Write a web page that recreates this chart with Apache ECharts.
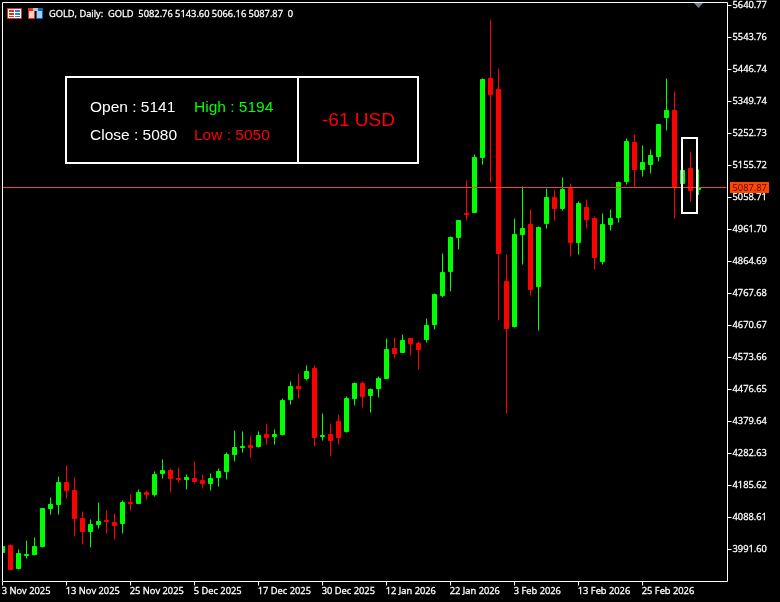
<!DOCTYPE html>
<html>
<head>
<meta charset="utf-8">
<style>html,body{margin:0;padding:0;background:#000;}#c{width:780px;height:602px;}</style>
<script src="https://cdn.jsdelivr.net/npm/echarts@6/dist/echarts.min.js"></script>
</head>
<body>
<div id="c"></div>
<script>
const dates = ["3 Nov 2025","4 Nov 2025","5 Nov 2025","6 Nov 2025","7 Nov 2025","10 Nov 2025","11 Nov 2025","12 Nov 2025",
"13 Nov 2025","14 Nov 2025","17 Nov 2025","18 Nov 2025","19 Nov 2025","20 Nov 2025","21 Nov 2025","24 Nov 2025",
"25 Nov 2025","26 Nov 2025","27 Nov 2025","28 Nov 2025","1 Dec 2025","2 Dec 2025","3 Dec 2025","4 Dec 2025",
"5 Dec 2025","8 Dec 2025","9 Dec 2025","10 Dec 2025","11 Dec 2025","12 Dec 2025","15 Dec 2025","16 Dec 2025",
"17 Dec 2025","18 Dec 2025","19 Dec 2025","22 Dec 2025","23 Dec 2025","24 Dec 2025","26 Dec 2025","29 Dec 2025",
"30 Dec 2025","31 Dec 2025","2 Jan 2026","5 Jan 2026","6 Jan 2026","7 Jan 2026","8 Jan 2026","9 Jan 2026",
"12 Jan 2026","13 Jan 2026","14 Jan 2026","15 Jan 2026","16 Jan 2026","19 Jan 2026","20 Jan 2026","21 Jan 2026",
"22 Jan 2026","23 Jan 2026","26 Jan 2026","27 Jan 2026","28 Jan 2026","29 Jan 2026","30 Jan 2026","2 Feb 2026",
"3 Feb 2026","4 Feb 2026","5 Feb 2026","6 Feb 2026","9 Feb 2026","10 Feb 2026","11 Feb 2026","12 Feb 2026",
"13 Feb 2026","16 Feb 2026","17 Feb 2026","18 Feb 2026","19 Feb 2026","20 Feb 2026","23 Feb 2026","24 Feb 2026",
"25 Feb 2026","26 Feb 2026","27 Feb 2026","2 Mar 2026","3 Mar 2026","4 Mar 2026","5 Mar 2026","6 Mar 2026"];
const futureSlots = ["","",""];

const opens = [3982.49,4003.70,3933.98,3973.39,3976.42,4000.67,4115.88,4128.00,
4194.69,4170.44,4085.55,4046.15,4067.37,4079.49,4073.42,4070.40,
4134.06,4131.03,4164.37,4158.32,4221.98,4231.07,4206.82,4203.79,
4206.82,4200.75,4191.67,4209.86,4228.04,4279.58,4300.80,4306.86,
4303.83,4340.21,4334.15,4340.21,4446.32,4485.72,4509.98,4540.29,
4334.15,4340.21,4379.62,4349.31,4449.35,4494.82,4458.45,4479.67,
4509.98,4600.92,4588.81,4631.24,4616.08,4628.22,4673.69,4761.61,
4834.36,4937.44,5010.19,5013.23,5179.97,5419.46,5386.11,4804.04,
4667.63,4946.53,4976.84,4788.89,4979.88,5058.69,5025.36,5085.98,
4922.28,5028.38,4995.03,4864.68,4976.85,4998.07,5107.21,5225.43,
5143.59,5158.75,5183.00,5301.23,5322.44,5101.15,5146.61,5082.76];
const highs = [4006.73,4006.73,3991.57,4018.86,4027.95,4115.87,4149.21,4212.88,
4246.23,4209.85,4106.77,4082.52,4134.06,4109.80,4100.71,4140.12,
4158.31,4173.47,4170.44,4228.04,4264.42,4237.13,4240.16,4218.94,
4258.35,4218.94,4221.97,4237.13,4285.64,4352.33,4349.30,4334.14,
4349.30,4373.55,4355.36,4449.34,4500.88,4525.13,4549.39,4549.39,
4403.87,4373.55,4400.84,4455.41,4497.85,4500.88,4479.66,4516.04,
4631.24,4634.27,4643.37,4631.24,4622.14,4691.87,4767.66,4888.92,
4940.46,4988.97,5110.23,5189.05,5419.46,5598.32,5449.77,4885.89,
4995.03,5092.04,5022.32,4970.78,5085.98,5079.92,5119.33,5101.14,
5046.57,5052.63,5001.09,5010.19,5022.32,5107.20,5237.56,5249.69,
5216.34,5204.21,5280.00,5419.46,5380.04,5155.71,5197.00,5143.60];
const lows = [3976.42,3927.92,3930.95,3964.30,3973.39,3997.64,4097.69,4097.69,
4146.19,4030.99,4006.74,3997.64,4055.24,4040.09,4021.90,4040.09,
4109.81,4131.03,4143.16,4152.25,4206.82,4164.38,4194.70,4173.48,
4191.67,4176.51,4170.44,4182.57,4203.79,4258.36,4285.65,4270.49,
4300.80,4309.90,4309.90,4337.18,4431.16,4449.35,4503.92,4303.83,
4322.02,4273.52,4309.90,4346.28,4428.13,4422.07,4406.91,4452.38,
4509.98,4570.62,4588.81,4579.71,4537.27,4619.12,4658.53,4755.54,
4773.73,4901.06,4988.98,5013.23,5158.75,5104.18,4685.82,4403.88,
4664.60,4855.59,4761.61,4655.50,4964.72,4988.98,5019.29,4879.84,
4885.90,4964.72,4840.43,4855.59,4958.66,4982.91,5098.11,5092.05,
5122.37,5131.46,5167.84,5261.82,4995.04,5082.96,5047.00,5066.16];
const closes = [4000.67,3930.95,3979.45,3976.41,4000.67,4115.87,4127.99,4194.69,
4170.44,4085.56,4046.15,4067.36,4076.46,4076.46,4064.34,4134.06,
4131.03,4164.37,4158.32,4218.94,4231.07,4206.82,4203.79,4209.85,
4197.73,4191.67,4206.82,4228.04,4279.57,4300.79,4303.83,4300.80,
4337.17,4331.12,4340.21,4443.28,4485.72,4479.67,4531.20,4331.12,
4337.17,4322.02,4331.12,4449.34,4494.82,4455.41,4476.63,4509.98,
4597.89,4585.77,4625.18,4616.09,4597.90,4670.65,4764.63,4831.32,
4937.43,4988.97,5007.17,5179.96,5416.42,5370.96,4888.93,4661.56,
4946.53,4964.72,4779.80,4967.75,5058.69,5025.36,5082.95,4922.28,
5040.51,4992.01,4876.81,4976.84,4995.03,5104.17,5228.46,5143.59,
5164.80,5186.02,5280.00,5322.44,5092.05,5140.55,5079.92,5087.87];

const yTickValues = [5640.77,5543.76,5446.74,5349.74,5252.73,5155.72,5058.71,4961.70,4864.69,4767.68,4670.67,4573.66,4476.65,4379.64,4282.63,4185.62,4088.61,3991.60];
const yMin = 3894.59, yMax = 5649.87;
const lastPrice = 5087.87;
const priceLineLevel = 5089.8;
const titleText = "GOLD, Daily:  GOLD  5082.76 5143.60 5066.16 5087.87  0";
const panel = {open:"Open : 5141", high:"High : 5194", close:"Close : 5080", low:"Low : 5050", pnl:"-61 USD"};

const UP = "#00ff00", DOWN = "#ff0000", WHITE = "#ffffff";
const SMALL_SIZE = 9.3;
const SMALL_FONT = SMALL_SIZE + "px 'Open Sans', sans-serif";
const PANEL_FONT = "15.5px 'Liberation Sans', Arial, sans-serif";
const categories = dates.concat(futureSlots);
const candles = opens.map((o, i) => [o, closes[i], lows[i], highs[i]]);
const showTick = (i) => i % 8 === 0 && i < dates.length;

const Z = 100;
const txt = (x, y, text, fill, font, border) => ({type:"text", z:Z+2, silent:true,
  style:{x, y, text, fill, font, verticalAlign:"middle", align:"left", stroke:border?fill:null, lineWidth:border||0}});
const line = (x1, y1, x2, y2, stroke, lineWidth) => ({type:"line", z:Z+1, silent:true,
  shape:{x1, y1, x2, y2}, style:{stroke, lineWidth}});
const box = (x, y, width, height, fill) => ({type:"rect", z:Z+1, silent:true,
  shape:{x, y, width, height}, style:{fill}});

const chart = echarts.init(document.getElementById("c"), null, {renderer:"canvas"});
chart.setOption({
  animation:false,
  backgroundColor:"#000000",
  textStyle:{fontFamily:"'Open Sans', sans-serif"},
  grid:{left:-1.5, top:2.5, width:728, height:579, containLabel:false, outerBoundsMode:"none"},
  xAxis:{
    type:"category", data:categories, boundaryGap:true,
    axisLine:{show:false},
    splitLine:{show:false},
    axisTick:{show:true, alignWithLabel:true, interval:(i) => showTick(i), length:4, lineStyle:{color:WHITE, width:1}},
    axisLabel:{show:true, interval:(i) => showTick(i), color:WHITE, fontSize:SMALL_SIZE, fontFamily:"'Open Sans', sans-serif", align:"left", margin:5, padding:[0,0,0,-0.7], textBorderColor:WHITE, textBorderWidth:0.3, hideOverlap:false, showMinLabel:true}
  },
  yAxis:{
    type:"value", position:"right", offset:1, min:yMin, max:yMax, scale:true,
    axisLine:{show:false},
    splitLine:{show:false},
    axisTick:{show:true, length:4, lineStyle:{color:WHITE, width:1}, customValues:yTickValues},
    axisLabel:{show:true, color:WHITE, fontSize:SMALL_SIZE, fontFamily:"'Open Sans', sans-serif", margin:5, padding:[2,0,0,0], textBorderColor:WHITE, textBorderWidth:0.3, customValues:yTickValues, formatter:(v) => v.toFixed(2)}
  },
  series:[
    {type:"line", data:[], z:1, silent:true, symbol:"none",
     markLine:{silent:true, symbol:"none", animation:false, label:{show:false},
       lineStyle:{color:"#f04a10", width:1, type:"solid"}, data:[{yAxis:priceLineLevel}]}},
    {type:"candlestick", z:3, data:candles, barWidth:4.4, clip:false,
     itemStyle:{color:UP, color0:DOWN, borderColor:UP, borderColor0:DOWN, borderWidth:1}}
  ]
});

const yLast = chart.convertToPixel({yAxisIndex:0}, lastPrice);
chart.setOption({graphic:{elements:[
  box(0, 0, 2, 602, "#000000"),
  line(2.5, 2.5, 727.5, 2.5, WHITE, 1),
  line(2.5, 2.5, 2.5, 581.5, WHITE, 1),
  line(727.5, 2.5, 727.5, 581.5, WHITE, 1),
  line(2.5, 581.5, 727.5, 581.5, WHITE, 1),
  {type:"rect", z:Z+1, silent:true, shape:{x:7.5,y:8.5,width:14,height:10}, style:{fill:"#ffffff", stroke:"#e03020", lineWidth:1}},
  box(9, 10, 5, 2, "#e03020"), box(9, 13, 5, 2, "#e03020"), box(9, 16, 5, 1, "#e03020"),
  box(15, 10, 5, 2, "#3080d0"), box(15, 13, 5, 2, "#3080d0"), box(15, 16, 5, 1, "#3080d0"),
  box(28, 8, 7, 11, "#e03020"), box(29, 11, 5, 7, "#ffd0c8"),
  box(36, 8, 7, 11, "#1060b0"), box(37, 11, 5, 7, "#a0d0f0"),
  box(33, 8, 5, 3, "#c0c0c0"),
  txt(49, 14, titleText, WHITE, SMALL_FONT, 0.3),
  {type:"polygon", z:Z+1, silent:true, shape:{points:[[694,3],[703,3],[698.5,8]]}, style:{fill:"#708090"}},
  {type:"rect", z:Z+1, silent:true, shape:{x:66,y:77,width:352,height:86}, style:{fill:"#000000", stroke:WHITE, lineWidth:2}},
  line(298, 77, 298, 163, WHITE, 2),
  txt(90, 107.5, panel.open, WHITE, PANEL_FONT),
  txt(194, 107.5, panel.high, UP, PANEL_FONT),
  txt(90, 135.5, panel.close, WHITE, PANEL_FONT),
  txt(194, 135.5, panel.low, DOWN, PANEL_FONT),
  txt(322, 120.5, panel.pnl, DOWN, "19px 'Liberation Sans', Arial, sans-serif"),
  {type:"rect", z:Z+1, silent:true, shape:{x:682,y:138,width:15,height:75}, style:{fill:"none", stroke:WHITE, lineWidth:2}},
  box(730, Math.floor(yLast) - 5, 39, 11, "#ff4500"),
  txt(732.5, Math.floor(yLast) + 1.5, lastPrice.toFixed(2), "#3a1000", SMALL_FONT)
]}});
</script>
</body>
</html>
